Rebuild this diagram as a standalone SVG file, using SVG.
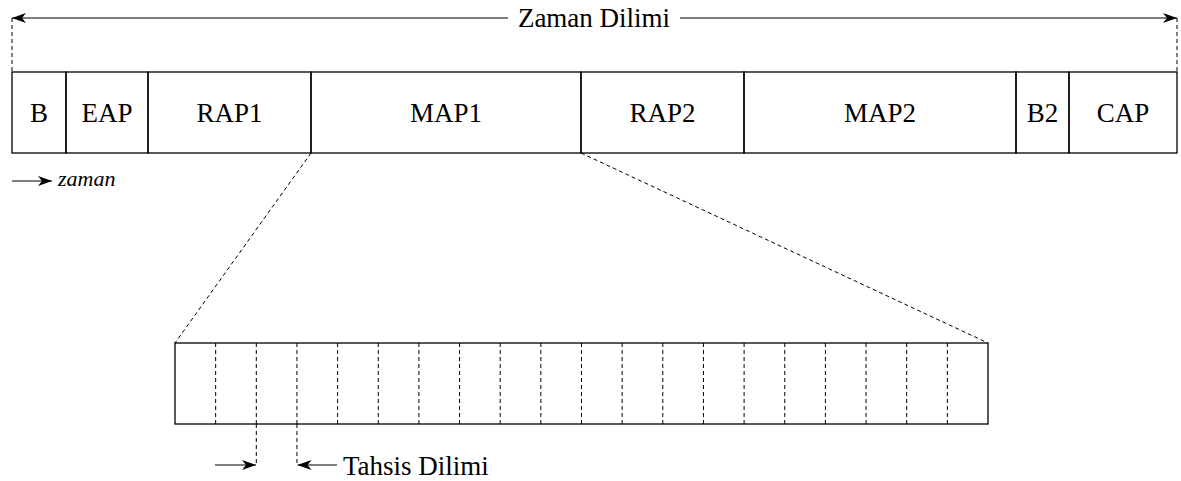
<svg xmlns="http://www.w3.org/2000/svg" width="1181" height="481" viewBox="0 0 1181 481">
  <style>
    .box { fill: none; stroke: #000; stroke-width: 1.3; }
    .ln { fill: none; stroke: #000; stroke-width: 1.2; }
    .dash { fill: none; stroke: #000; stroke-width: 1; stroke-dasharray: 4 3; }
    text { font-family: 'Liberation Serif', 'DejaVu Serif', serif; fill: #000; }
    .lbl { font-size: 27px; }
    .it { font-size: 22px; font-style: italic; }
  </style>
  <defs>
    <marker id="head" viewBox="0 0 14 10" refX="14" refY="5" markerWidth="14" markerHeight="10" markerUnits="userSpaceOnUse" orient="auto-start-reverse">
      <path d="M0,0 L14,5 L0,10 L4,5 Z" fill="#000"/>
    </marker>
  </defs>

  <rect width="1181" height="481" fill="#fff"/>

  <!-- frame span -->
  <g id="frame-span">
    <line class="ln" x1="12" y1="18" x2="508" y2="18" marker-start="url(#head)"/>
    <line class="ln" x1="680" y1="18" x2="1177" y2="18" marker-end="url(#head)"/>
    <text class="lbl" x="594" y="27" text-anchor="middle">Zaman Dilimi</text>
  </g>

  <!-- superframe segments -->
  <g id="seg-B"><rect class="box" x="12" y="72" width="54" height="81"/><text class="lbl" x="39" y="122" text-anchor="middle">B</text></g>
  <g id="seg-EAP"><rect class="box" x="66" y="72" width="82" height="81"/><text class="lbl" x="107" y="122" text-anchor="middle">EAP</text></g>
  <g id="seg-RAP1"><rect class="box" x="148" y="72" width="163" height="81"/><text class="lbl" x="229.5" y="122" text-anchor="middle">RAP1</text></g>
  <g id="seg-MAP1"><rect class="box" x="311" y="72" width="270" height="81"/><text class="lbl" x="446" y="122" text-anchor="middle">MAP1</text></g>
  <g id="seg-RAP2"><rect class="box" x="581" y="72" width="163" height="81"/><text class="lbl" x="662.5" y="122" text-anchor="middle">RAP2</text></g>
  <g id="seg-MAP2"><rect class="box" x="744" y="72" width="272" height="81"/><text class="lbl" x="880" y="122" text-anchor="middle">MAP2</text></g>
  <g id="seg-B2"><rect class="box" x="1016" y="72" width="53" height="81"/><text class="lbl" x="1042.5" y="122" text-anchor="middle">B2</text></g>
  <g id="seg-CAP"><rect class="box" x="1069" y="72" width="108" height="81"/><text class="lbl" x="1123" y="122" text-anchor="middle">CAP</text></g>

  <!-- time direction -->
  <g id="time-axis">
    <line class="ln" x1="12" y1="181" x2="52" y2="181" marker-end="url(#head)"/>
    <text class="it" x="58" y="186">zaman</text>
  </g>

  <!-- allocation slots (MAP1 expanded) -->
  <g id="slots">
    <rect class="box" x="175" y="343" width="813" height="81"/>
    <path class="dash" d="M215.65,343V424 M256.3,343V424 M296.95,343V424 M337.6,343V424 M378.25,343V424 M418.9,343V424 M459.55,343V424 M500.2,343V424 M540.85,343V424 M581.5,343V424 M622.15,343V424 M662.8,343V424 M703.45,343V424 M744.1,343V424 M784.75,343V424 M825.4,343V424 M866.05,343V424 M906.7,343V424 M947.35,343V424"/>
  </g>

  <!-- connectors -->
  <g id="connectors">
    <line class="dash" x1="12" y1="18" x2="12" y2="72"/>
    <line class="dash" x1="1177" y1="18" x2="1177" y2="72"/>
    <line class="dash" x1="311" y1="153" x2="175" y2="343"/>
    <line class="dash" x1="581" y1="153" x2="988" y2="343"/>
    <line class="dash" x1="256.3" y1="424" x2="256.3" y2="466"/>
    <line class="dash" x1="296.95" y1="424" x2="296.95" y2="466"/>
    <line class="ln" x1="215" y1="465" x2="256" y2="465" marker-end="url(#head)"/>
    <line class="ln" x1="337" y1="465" x2="297.5" y2="465" marker-end="url(#head)"/>
  </g>

  <g id="slot-label">
    <text class="lbl" x="343" y="475">Tahsis Dilimi</text>
  </g>
</svg>
